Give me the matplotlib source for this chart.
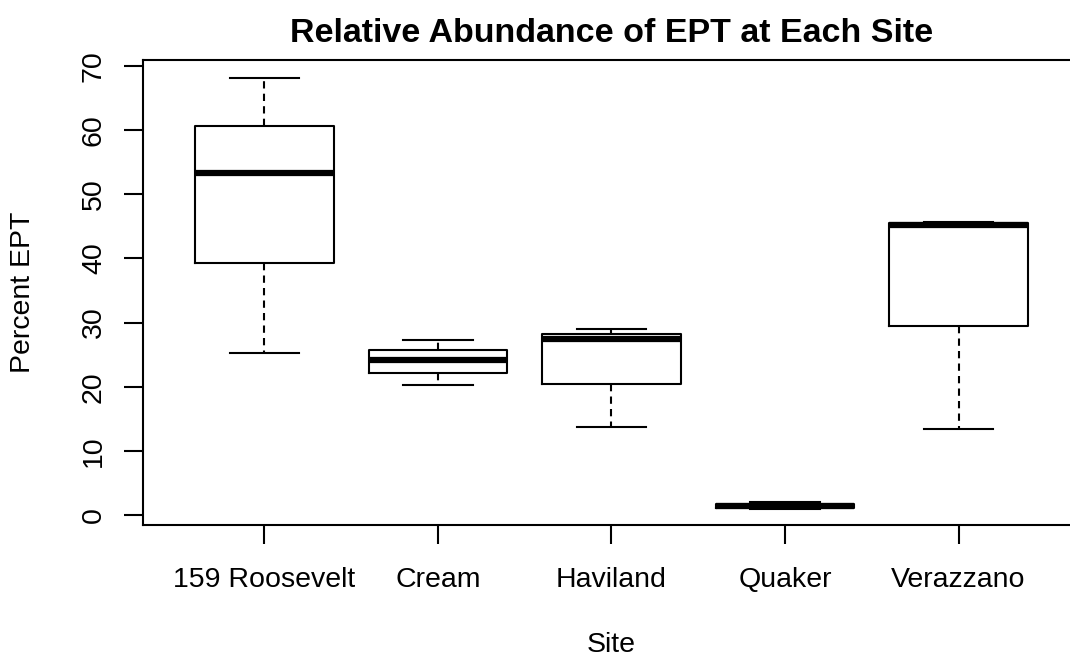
import numpy as np
import matplotlib

matplotlib.use("Agg")
import matplotlib.pyplot as plt

# Summary statistics
sites = ["159 Roosevelt", "Cream", "Haviland", "Quaker", "Verazzano"]
whisker_low = [25.2, 20.3, 13.7, 1.0, 13.4]
q1 = [39.3, 22.1, 20.5, 1.1, 29.4]
median = [53.3, 24.1, 27.4, 1.4, 45.2]
q3 = [60.7, 25.7, 28.2, 1.7, 45.5]
whisker_high = [68.2, 27.3, 29.0, 2.0, 45.7]
y_ticks = [0, 10, 20, 30, 40, 50, 60, 70]

plt.rcParams["font.family"] = ["Liberation Sans", "DejaVu Sans"]

stats = []
for i, name in enumerate(sites):
    stats.append(
        {
            "label": name,
            "whislo": whisker_low[i],
            "q1": q1[i],
            "med": median[i],
            "q3": q3[i],
            "whishi": whisker_high[i],
            "fliers": [],
        }
    )

fig = plt.figure(figsize=(10.7, 6.6), dpi=100)
# axes runs slightly past the right edge, like the cropped reference
ax = fig.add_axes([143 / 1070, 1 - 525 / 660, 937 / 1070, 465 / 660])

lw = 1.5
ax.bxp(
    stats,
    positions=np.arange(1, len(sites) + 1),
    widths=0.8,
    capwidths=0.4,
    showfliers=False,
    boxprops=dict(color="black", linewidth=lw),
    medianprops=dict(color="black", linewidth=4.5, solid_capstyle="butt"),
    whiskerprops=dict(color="black", linewidth=lw, linestyle=(0, (3.5, 2.5))),
    capprops=dict(color="black", linewidth=lw),
)

ax.set_xlim(0.3, 5.7)
ax.set_ylim(-1.56, 70.94)
ax.set_yticks(y_ticks)
ax.set_yticklabels([str(t) for t in y_ticks], rotation=90, va="center")

fs = 20.5
ax.tick_params(axis="both", length=14, width=lw, labelsize=fs)
ax.tick_params(axis="x", pad=16)
ax.tick_params(axis="y", pad=12)
for side in ["left", "bottom", "top", "right"]:
    ax.spines[side].set_linewidth(lw)

ax.set_title(
    "Relative Abundance of EPT at Each Site",
    fontsize=24.5,
    fontweight="bold",
    pad=13,
)
ax.set_xlabel("Site", fontsize=fs)
ax.set_ylabel("Percent EPT", fontsize=fs)
ax.xaxis.set_label_coords(0.5, -0.258)
ax.xaxis.label.set_va("center")
ax.yaxis.set_label_coords(-0.128, 0.5)
ax.yaxis.label.set_va("center")

fig.savefig("out.png", dpi=100)
plt.close(fig)
